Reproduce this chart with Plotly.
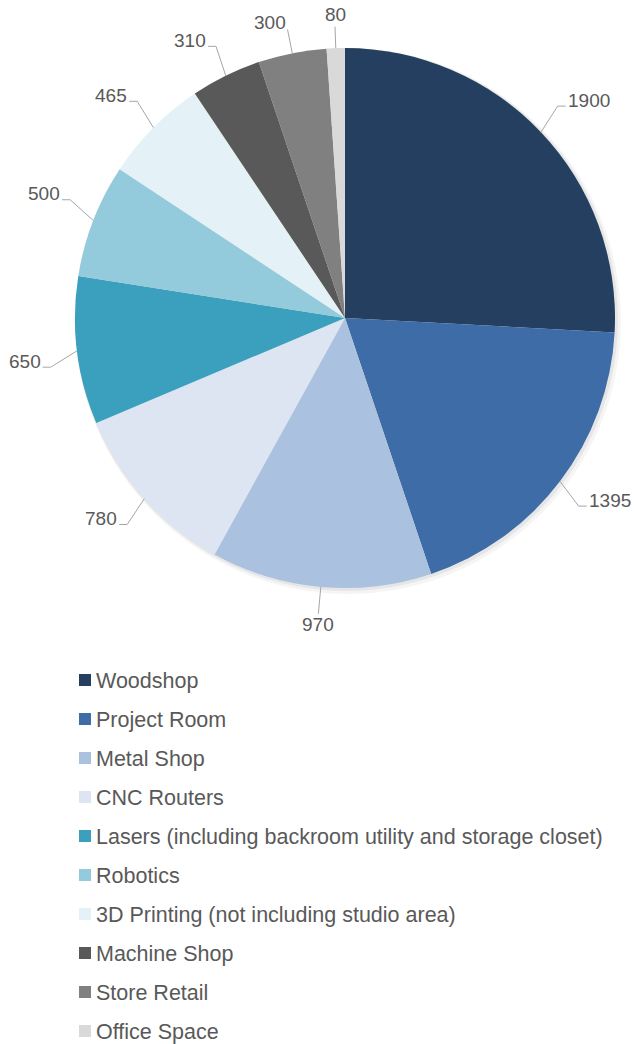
import math
import plotly.graph_objects as go

categories = ["Woodshop", "Project Room", "Metal Shop", "CNC Routers",
              "Lasers (including backroom utility and storage closet)", "Robotics",
              "3D Printing (not including studio area)", "Machine Shop", "Store Retail",
              "Office Space"]
values = [1900, 1395, 970, 780, 650, 500, 465, 310, 300, 80]
colors = ["#243F60", "#3D6CA6", "#AAC2DF", "#DCE5F1", "#3AA0BE", "#93CBDC",
          "#E4F1F6", "#595959", "#808080", "#D9D9D9"]

W, H = 634, 1044
CX, CY, R = 345, 318, 270
FONT = "Liberation Sans, Arial, sans-serif"
TXT = "#595959"
LINE = "#A6A6A6"
LBL_SIZE = 19
LEG_SIZE = 21.5


def px(x):
    return x / W


def py(y):
    return 1 - y / H


fig = go.Figure()

# soft shadow
for off, alpha in [(3, 0.04), (1.5, 0.06)]:
    fig.add_trace(go.Pie(
        values=[1], labels=["s"], marker=dict(colors=[f"rgba(0,0,0,{alpha})"]),
        domain=dict(x=[px(CX - R), px(CX + R + 2 * off)],
                    y=[py(CY + R + 2 * off), py(CY - R)]),
        textinfo="none", hoverinfo="skip", showlegend=False, sort=False))

fig.add_trace(go.Pie(
    labels=categories, values=values, sort=False, direction="clockwise", rotation=0,
    marker=dict(colors=colors, line=dict(width=0)),
    domain=dict(x=[px(CX - R), px(CX + R)], y=[py(CY + R), py(CY - R)]),
    textinfo="none", hoverinfo="label+value", showlegend=False))

# data labels with leader lines
total = sum(values)
cum = 0
annotations = []
shapes = []
for v in values:
    deg = (cum + v / 2) / total * 360
    cum += v
    theta = math.radians(deg)
    s, c = math.sin(theta), -math.cos(theta)
    x0, y0 = CX + R * s, CY + R * c
    side = 1 if s >= 0 else -1
    tw = len(str(v)) * 0.556 * LBL_SIZE + 2
    if abs(s) < 0.1:
        up = c < 0
        r1 = (1.08 if up else 1.1) * R
        x1, y1 = CX + r1 * s, CY + r1 * c
        shapes.append(dict(type="line", xref="paper", yref="paper",
                           x0=px(x0), y0=py(y0), x1=px(x1), y1=py(y1),
                           line=dict(color=LINE, width=1)))
        ty = max(y1 - 12, 13) if up else y1 + 11
        annotations.append(dict(x=px(x1), y=py(ty), xref="paper", yref="paper",
                                text=str(v), showarrow=False, xanchor="center", yanchor="middle",
                                borderpad=0,
                                font=dict(family=FONT, size=LBL_SIZE, color=TXT)))
    elif abs(s) < 0.3:
        r1 = 1.09 * R
        x1, y1 = CX + r1 * s, CY + r1 * c
        shapes.append(dict(type="line", xref="paper", yref="paper",
                           x0=px(x0), y0=py(y0), x1=px(x1), y1=py(y1),
                           line=dict(color=LINE, width=1)))
        annotations.append(dict(x=px(x1 + side * 1), y=py(y1 - 7), xref="paper", yref="paper",
                                text=str(v), showarrow=False, borderpad=0,
                                xanchor="left" if side > 0 else "right", yanchor="middle",
                                font=dict(family=FONT, size=LBL_SIZE, color=TXT)))
    else:
        # leader bends toward the nearest vertical
        target = 180 if 90 < deg < 270 else (360 if deg > 180 else 0)
        ldeg = deg + 0.3 * (target - deg)
        lt = math.radians(ldeg)
        L = 31
        x1, y1 = x0 + L * math.sin(lt), y0 - L * math.cos(lt)
        x2 = x1 + side * 8
        if side > 0 and x2 + 1 + tw > W - 2:
            x2 = W - 3 - tw
        shapes.append(dict(type="path", xref="paper", yref="paper",
                           path=f"M {px(x0)} {py(y0)} L {px(x1)} {py(y1)} L {px(x2)} {py(y1)}",
                           line=dict(color=LINE, width=1)))
        annotations.append(dict(x=px(x2 + side * 1), y=py(y1 - 6), xref="paper", yref="paper",
                                text=str(v), showarrow=False, borderpad=0,
                                xanchor="left" if side > 0 else "right", yanchor="middle",
                                font=dict(family=FONT, size=LBL_SIZE, color=TXT)))

# legend
LX, LY0, LDY, SQ = 79, 680, 39, 12
for i, (name, col) in enumerate(zip(categories, colors)):
    yc = LY0 + i * LDY
    shapes.append(dict(type="rect", xref="paper", yref="paper",
                       x0=px(LX), x1=px(LX + SQ), y0=py(yc - SQ / 2), y1=py(yc + SQ / 2),
                       fillcolor=col, line=dict(width=0)))
    annotations.append(dict(x=px(LX + SQ + 3), y=py(yc + 1), xref="paper", yref="paper",
                            text=name, showarrow=False, xanchor="left", yanchor="middle",
                            font=dict(family=FONT, size=LEG_SIZE, color=TXT)))

fig.update_layout(width=W, height=H, margin=dict(l=0, r=0, t=0, b=0),
                  paper_bgcolor="white", plot_bgcolor="white",
                  shapes=shapes, annotations=annotations, showlegend=False)

fig.write_html("out.html", config={"displayModeBar": False},
               post_script="document.body.style.margin='0';document.body.style.overflow='hidden';")
